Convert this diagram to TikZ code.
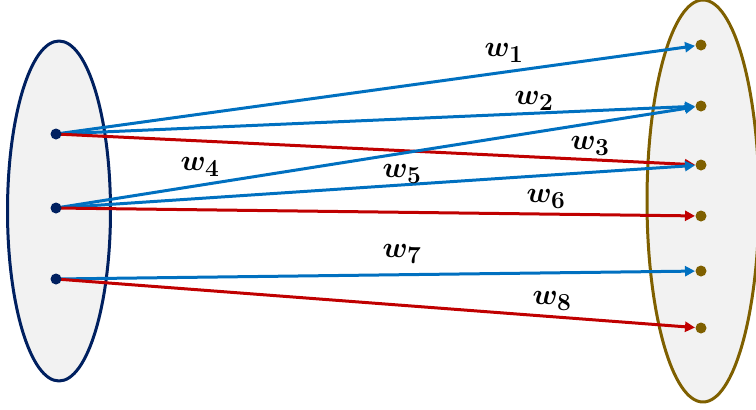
\documentclass[tikz,border=0pt]{standalone}
\usepackage{bm}
\usetikzlibrary{arrows.meta}
\definecolor{wblue}{HTML}{0070C0}
\definecolor{wred}{HTML}{C00000}
\definecolor{navy}{HTML}{002060}
\definecolor{olive}{HTML}{7F6000}
\definecolor{setgray}{HTML}{F2F2F2}
\tikzset{
  edge/.style={-{Triangle[length=10pt,width=10pt]},line width=3pt,shorten >=6pt,shorten <=2pt},
  wlabel/.style={inner sep=1pt,font=\Huge}
}
\newcommand{\wlab}[1]{\scalebox{1.18}{$\bm{w}_{\mathbf{#1}}$}}
\begin{document}
\begin{tikzpicture}[x=1pt,y=-1pt,line cap=round,line join=round]
\useasboundingbox (0,0) rectangle (756,410);
% the two sets
\draw[navy,fill=setgray,line width=3pt] (59,211) ellipse [x radius=51.5,y radius=170];
\draw[olive,fill=setgray,line width=3pt] (703,201) ellipse [x radius=56,y radius=201];
% points
\coordinate (L1) at (56,134);
\coordinate (L2) at (56,208);
\coordinate (L3) at (56,279);
\coordinate (R1) at (701,45);
\coordinate (R2) at (701,106);
\coordinate (R3) at (701,165);
\coordinate (R4) at (701,216);
\coordinate (R5) at (701,271);
\coordinate (R6) at (701,328);
% weighted edges
\draw[edge,wblue] (L1) -- (R1);
\draw[edge,wblue] (L1) -- (R2);
\draw[edge,wred] (L1) -- (R3);
\draw[edge,wblue] (L2) -- (R2);
\draw[edge,wblue] (L2) -- (R3);
\draw[edge,wred] (L2) -- (R4);
\draw[edge,wblue] (L3) -- (R5);
\draw[edge,wred] (L3) -- (R6);
\foreach \p in {L1,L2,L3} \fill[navy] (\p) circle (5.5);
\foreach \p in {R1,R2,R3,R4,R5,R6} \fill[olive] (\p) circle (5.5);
% labels
\node[wlabel] (w1) at (504,53) {\wlab{1}};
\node[wlabel] (w2) at (534,101) {\wlab{2}};
\node[wlabel] (w3) at (590,146) {\wlab{3}};
\node[wlabel] (w4) at (200,167) {\wlab{4}};
\node[wlabel] (w5) at (402,174) {\wlab{5}};
\node[wlabel] (w6) at (546,199) {\wlab{6}};
\node[wlabel] (w7) at (402,254) {\wlab{7}};
\node[wlabel] (w8) at (552,301) {\wlab{8}};
\end{tikzpicture}
\end{document}
